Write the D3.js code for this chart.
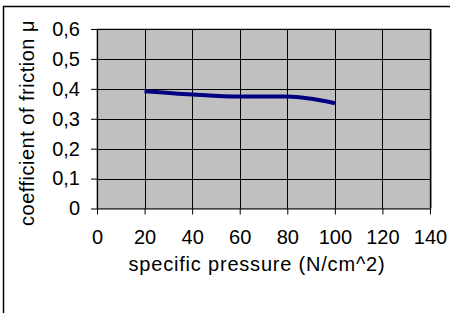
<!DOCTYPE html>
<html>
<head>
<meta charset="utf-8">
<script src="https://cdn.jsdelivr.net/npm/d3@7"></script>
<style>
  body { margin: 0; background: #fff; }
  svg { display: block; font-family: "Liberation Sans", Arial, sans-serif; }
</style>
</head>
<body>
<svg id="chart" width="450" height="313"></svg>
<script>
const pressure = [20, 40, 60, 80, 100]
const friction = [0.392, 0.381, 0.374, 0.374, 0.352]
const xTicks = [0, 20, 40, 60, 80, 100, 120, 140]
const yTicks = [0, 0.1, 0.2, 0.3, 0.4, 0.5, 0.6]

const svg = d3.select('#chart')
const margin = { top: 29, left: 97, right: 20, bottom: 104.5 }
const width = 450 - margin.left - margin.right,
  height = 313 - margin.top - margin.bottom

// outer frame (cut off at the right and bottom)
svg.append('rect')
  .attr('x', 3.5).attr('y', 6.5)
  .attr('width', 460).attr('height', 320)
  .attr('fill', 'none').attr('stroke', '#000').attr('stroke-width', 1.5)

const x = d3.scaleLinear().domain([0, 140]).range([0, width])
const y = d3.scaleLinear().domain([0, 0.6]).range([height, 0])

const g = svg.append('g')
  .attr('transform', 'translate(' + margin.left + ',' + margin.top + ')')

// plot background with shadow
g.append('rect')
  .attr('x', 2).attr('y', 0)
  .attr('width', width).attr('height', height)
  .attr('fill', '#8c8c8c')
g.append('rect')
  .attr('width', width).attr('height', height)
  .attr('fill', '#c0c0c0').attr('stroke', '#8c8c8c')

// grid
g.selectAll('.hgrid')
  .data(yTicks.slice(1))
  .enter().append('line')
  .attr('x1', 0).attr('x2', width)
  .attr('y1', d => Math.round(y(d)) + 0.5).attr('y2', d => Math.round(y(d)) + 0.5)
  .attr('stroke', '#000')
g.selectAll('.vgrid')
  .data(xTicks.slice(1))
  .enter().append('line')
  .attr('y1', 0).attr('y2', height)
  .attr('x1', d => Math.round(x(d)) + 0.5).attr('x2', d => Math.round(x(d)) + 0.5)
  .attr('stroke', '#000')

const fmt = d => d3.format('.1f')(d).replace('.', ',').replace(/^0,0$/, '0')

const xAxis = g.append('g')
  .attr('transform', 'translate(0,' + height + ')')
  .call(d3.axisBottom(x).tickValues(xTicks).tickSize(6).tickPadding(15).tickFormat(d3.format('d')))
const yAxis = g.append('g')
  .call(d3.axisLeft(y).tickValues(yTicks).tickSize(6).tickPadding(11).tickFormat(fmt))

;[xAxis, yAxis].forEach(a => {
  a.select('.domain').attr('stroke', '#000').attr('stroke-width', 1.2)
  a.selectAll('.tick line').attr('stroke', '#000')
  a.selectAll('text').attr('fill', '#000').style('font-size', '20px')
    .style('font-family', '"Liberation Sans", Arial, sans-serif')
})
xAxis.select('.domain').attr('d', 'M0,0.5H' + width)
yAxis.select('.domain').attr('d', 'M0.5,0V' + height)

// data line
const line = d3.line()
  .x((d, i) => x(pressure[i]))
  .y(d => y(d))
  .curve(d3.curveMonotoneX)

g.append('path')
  .datum(friction)
  .attr('d', line)
  .attr('fill', 'none')
  .attr('stroke', '#000080')
  .attr('stroke-width', 4)

// axis titles
svg.append('text')
  .attr('x', 257).attr('y', 271)
  .attr('text-anchor', 'middle')
  .style('font-size', '20px')
  .style('letter-spacing', '0.8px')
  .text('specific pressure (N/cm^2)')

svg.append('text')
  .attr('transform', 'translate(34,123) rotate(-90)')
  .attr('text-anchor', 'middle')
  .style('font-size', '20px')
  .style('letter-spacing', '0.5px')
  .text('coefficient of friction μ')
</script>
</body>
</html>
